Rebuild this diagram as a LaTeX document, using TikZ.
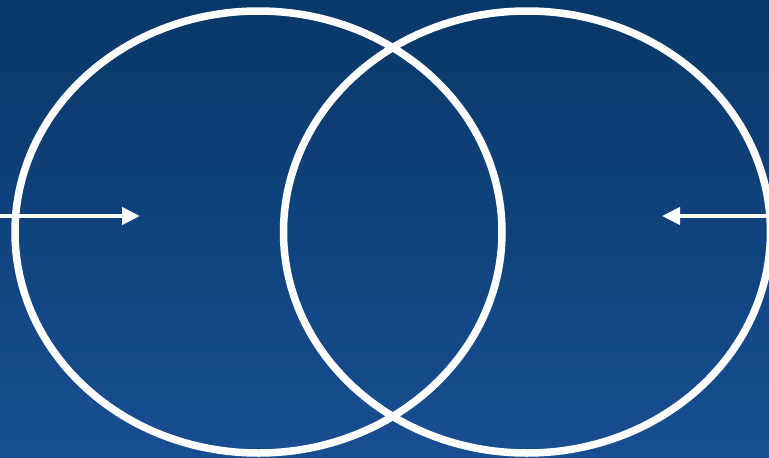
\documentclass[tikz,border=0pt]{standalone}
\usepackage{tikz}
\usetikzlibrary{positioning,arrows.meta,shapes.geometric}
\definecolor{bgtop}{RGB}{8,56,104}
\definecolor{bgbottom}{RGB}{24,78,146}
\tikzset{
	ring/.style={draw=white,ellipse,line width=7.5pt,inner sep=0pt,minimum width=487pt,minimum height=442pt},
	pointer/.style={white,line width=4pt,-{Triangle[length=18pt,width=17pt]}}
}
\begin{document}
\begin{tikzpicture}[x=1pt,y=-1pt]
		
		\shade[top color=bgtop,bottom color=bgbottom] (0,0) rectangle (769,458);
		\useasboundingbox (0,0) rectangle (769,458);
		
		\node[ring] (lcircle) at (258.5,232) {};
		\node[ring] (rcircle) at (527,232) {};
		
		\coordinate (lstart) at (0,216);
		\coordinate (lend) at (140,216);
		\coordinate (rstart) at (769,216);
		\coordinate (rend) at (662,216);
		
		\draw[pointer] (lstart) -- (lend);
		\draw[pointer] (rstart) -- (rend);
		
	\end{tikzpicture}
\end{document}
